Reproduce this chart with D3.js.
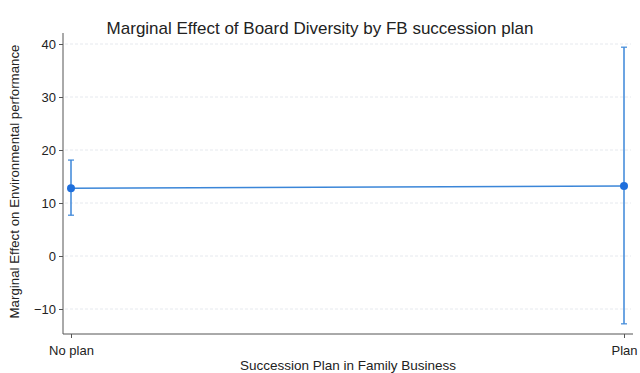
<!DOCTYPE html>
<html>
<head>
<meta charset="utf-8">
<script src="https://cdn.jsdelivr.net/npm/d3@7"></script>
<style>
  html, body { margin: 0; padding: 0; background: #fff; }
  text { font-family: "Liberation Sans", Arial, sans-serif; fill: #222; }
</style>
</head>
<body>
<svg id="chart" width="640" height="373"></svg>
<script>
// Marginal effects with 95% confidence intervals
const categories = ["No plan", "Plan"];
const margins = [12.8, 13.2];
const ciLower = [7.7, -12.8];
const ciUpper = [18.1, 39.4];
const yTicks = [-10, 0, 10, 20, 30, 40];

const svg = d3.select("#chart");
const plot = { left: 63, right: 633, top: 33, bottom: 334 };

const x = d3.scalePoint().domain(categories).range([71, 624]);
const y = d3.scaleLinear().domain([0, 40]).range([256, 44]);

const blue = "#3b86d8";

// horizontal grid lines
svg.append("g")
  .selectAll("line")
  .data(yTicks)
  .join("line")
  .attr("x1", plot.left + 2)
  .attr("x2", plot.right - 2)
  .attr("y1", d => y(d))
  .attr("y2", d => y(d))
  .attr("stroke", "#e6e9ee")
  .attr("stroke-width", 1)
  .attr("stroke-dasharray", "3,2");

// y axis
const yAxis = svg.append("g")
  .attr("transform", `translate(${plot.left},0)`)
  .call(d3.axisLeft(y).tickValues(yTicks).tickSize(4).tickPadding(3));
yAxis.select(".domain").attr("d", `M0,${plot.top}V${plot.bottom}`).attr("stroke", "#555");
yAxis.selectAll(".tick line").attr("stroke", "#555");
yAxis.selectAll(".tick text").attr("font-size", 13).style("fill", "#222");

// x axis
const xAxis = svg.append("g")
  .attr("transform", `translate(0,${plot.bottom})`)
  .call(d3.axisBottom(x).tickSize(4).tickPadding(8));
xAxis.select(".domain").attr("d", `M${plot.left},0H${plot.right}`).attr("stroke", "#555");
xAxis.selectAll(".tick line").attr("stroke", "#555");
xAxis.selectAll(".tick text").attr("font-size", 13).style("fill", "#222");

// connecting line between margins
const line = d3.line().x((d, i) => x(categories[i])).y(d => y(d));
svg.append("path")
  .datum(margins)
  .attr("d", line)
  .attr("fill", "none")
  .attr("stroke", blue)
  .attr("stroke-width", 1.5);

// confidence interval whiskers
const ci = svg.append("g");
categories.forEach((c, i) => {
  const cx = x(c);
  ci.append("line")
    .attr("x1", cx).attr("x2", cx)
    .attr("y1", y(ciLower[i])).attr("y2", y(ciUpper[i]))
    .attr("stroke", blue).attr("stroke-width", 1.5);
  [ciLower[i], ciUpper[i]].forEach(v => {
    ci.append("line")
      .attr("x1", cx - 3).attr("x2", cx + 3)
      .attr("y1", y(v)).attr("y2", y(v))
      .attr("stroke", blue).attr("stroke-width", 1.2);
  });
});

// point estimates
svg.append("g")
  .selectAll("circle")
  .data(margins)
  .join("circle")
  .attr("cx", (d, i) => x(categories[i]))
  .attr("cy", d => y(d))
  .attr("r", 4)
  .attr("fill", "#1f6fdc");

// title
svg.append("text")
  .attr("x", 320)
  .attr("y", 34)
  .attr("text-anchor", "middle")
  .attr("font-size", 17)
  .text("Marginal Effect of Board Diversity by FB succession plan");

// axis titles
svg.append("text")
  .attr("x", (plot.left + plot.right) / 2)
  .attr("y", 370)
  .attr("text-anchor", "middle")
  .attr("font-size", 13.5)
  .text("Succession Plan in Family Business");

svg.append("text")
  .attr("transform", `translate(19,${(plot.top + plot.bottom) / 2 - 2}) rotate(-90)`)
  .attr("text-anchor", "middle")
  .attr("font-size", 13.3)
  .text("Marginal Effect on Environmental performance");
</script>
</body>
</html>
